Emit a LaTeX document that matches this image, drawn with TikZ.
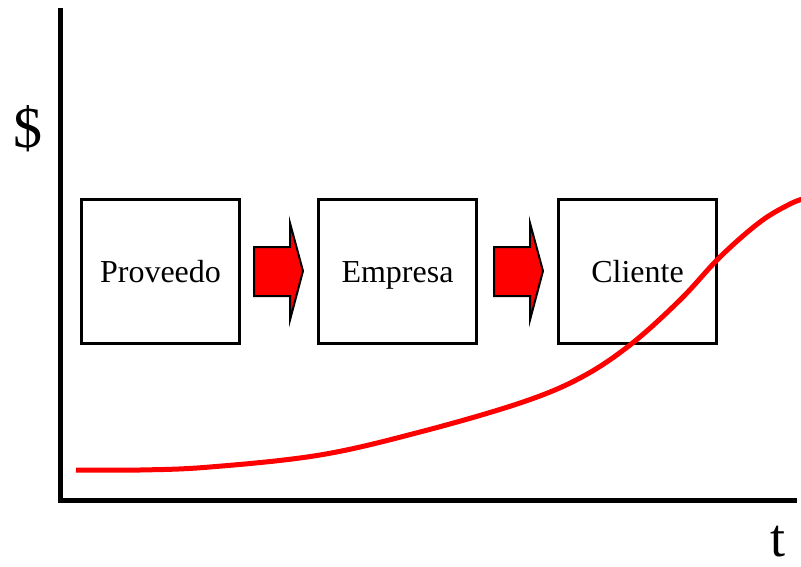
\documentclass[tikz,border=0pt]{standalone}
\usepackage{fontspec}
\setmainfont{Liberation Serif}
\begin{document}
\begin{tikzpicture}[x=1pt,y=-1pt,
  stage/.style={draw=black,line width=3.5pt,minimum width=158pt,minimum height=144pt,inner sep=0pt,text height=26pt,text depth=5pt,font=\fontsize{32}{36}\selectfont},
  flow/.style={draw=black,fill=red,line width=2pt,line join=miter},
  axis/.style={line width=5pt,black},
  curve/.style={red,line width=5pt},
  big/.style={font=\fontsize{58}{62}\selectfont,inner sep=0pt}]
\useasboundingbox (0,0) rectangle (801,567);
\node[stage] (p) at (160.5,271.5) {Proveedo};
\node[stage] (e) at (397.5,271.5) {Empresa};
\node[stage] (c) at (637.5,271.5) {Cliente};
\coordinate (a1) at (254,247);
\coordinate (a2) at (494,247);
\draw[flow] (a1) -- ++(36,0) -- ++(0,-24) -- ++(13,48) -- ++(-13,49) -- ++(0,-24) -- ++(-36,0) -- cycle;
\draw[flow] (a2) -- ++(36,0) -- ++(0,-24) -- ++(13,48) -- ++(-13,49) -- ++(0,-24) -- ++(-36,0) -- cycle;
\coordinate (top) at (60,8);
\coordinate (org) at (60,500);
\coordinate (right) at (797,500);
\draw[axis] (top) -- (org) -- (right);
\node[big,anchor=base] (dollar) at (28,148) {\$};
\node[big,anchor=base,font=\fontsize{54}{58}\selectfont] (tt) at (778,556) {t};
\begin{scope}
\clip (0,0) rectangle (801,567);
\draw[curve] plot[smooth,tension=0.6] coordinates {(76,470) (140,470) (210,467) (320,455) (420,432) (520,403) (580,378) (630,345) (680,300) (720,257) (760,222) (790,204) (806,198)};
\end{scope}
\end{tikzpicture}
\end{document}
